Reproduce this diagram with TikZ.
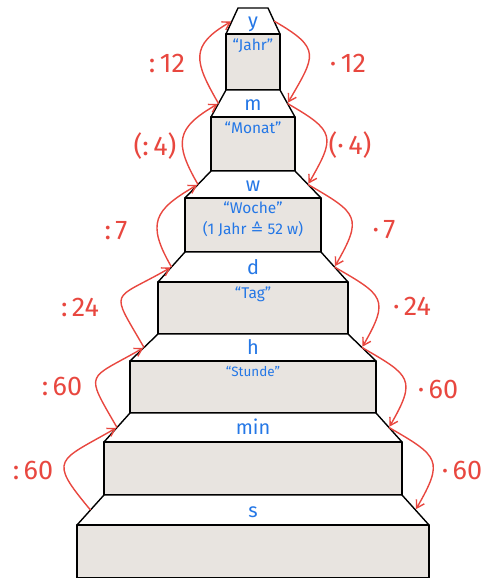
\documentclass[tikz,border=0pt]{standalone}
\usepackage{fontspec}
\setmainfont{Fira Sans}
\newfontfamily\symfont{DejaVu Sans}
\usetikzlibrary{arrows.meta,calc}
\definecolor{pen}{HTML}{E8473F}
\definecolor{ink}{HTML}{2477E6}
\definecolor{stone}{HTML}{E8E4E0}

\begin{document}
\begin{tikzpicture}[x=1pt,y=1pt,
  edge/.style={draw=black,line width=1.4pt,line join=round},
  unit/.style={text=ink,font=\fontsize{20}{20}\selectfont,inner sep=0pt,anchor=base},
  desc/.style={text=ink,font=\fontsize{15.5}{21}\selectfont,align=center,anchor=north,inner sep=0pt},
  op/.style={text=pen,font=\fontsize{27}{27}\selectfont,inner sep=0pt},
  dv/.style={-{Straight Barb[length=2.6mm,width=3.2mm]},draw=pen,line width=1.4pt,
             out=120,in=210,looseness=1.5,shorten >=1pt},
  ml/.style={-{Straight Barb[length=2.6mm,width=3.2mm]},draw=pen,line width=1.4pt,
             out=-30,in=60,looseness=1.7,shorten >=1pt}]
\useasboundingbox (0,0) rectangle (491,-578);
% the steps, top to bottom
\foreach \u/\ya/\wa/\yb/\wb/\yc in {y/8/15/34/27/90, m/90/27/117/42/171, w/171/42/198/68/252,
    d/252/68/282/95/334, h/334/95/361/123/413, min/413/123/442/149/495, s/495/149/525/176/578}{
  \draw[edge,fill=white] (253-\wa,-\ya) -- (253+\wa,-\ya) -- (253+\wb,-\yb) -- (253-\wb,-\yb) -- cycle;
  \draw[edge,fill=stone] (253-\wb,-\yb) rectangle (253+\wb,-\yc);
  \node[unit] (\u) at (253,{-(\ya+\yb)/2-7}) {\u};
  \coordinate (\u L) at ({253-(\wa+\wb)/2},{-(\ya+\yb)/2});
  \coordinate (\u R) at ({253+(\wa+\wb)/2},{-(\ya+\yb)/2});
}
\node[desc] (jahr) at (253,-39) {“Jahr”};
\node[desc] (monat) at (253,-122) {“Monat”};
\node[desc] (woche) at (253,-202) {“Woche”\\(1 Jahr {\symfont ≙} 52 w)};
\node[desc] (tag) at (253,-287) {“Tag”};
\node[desc,font=\fontsize{13.5}{14}\selectfont] (stunde) at (253,-366) {“Stunde”};
% division: upwards on the left
\draw[dv] (mL) to (yL);
\draw[dv] (wL) to (mL);
\draw[dv] (dL) to (wL);
\draw[dv,looseness=2.1] (hL) to (dL);
\draw[dv,looseness=2] (minL) to (hL);
\draw[dv,looseness=2,out=130] (sL) to (minL);
\node[op] (dv12) at (167,-63) {:\,12};
\node[op] (dv4) at (155,-146) {(:\,4)};
\node[op] (dv7) at (116,-231) {:\,7};
\node[op] (dv24) at (80,-307) {:\,24};
\node[op] (dv60a) at (62,-386) {:\,60};
\node[op] (dv60b) at (33,-470) {:\,60};
% multiplication: downwards on the right
\draw[ml] (yR) to (mR);
\draw[ml] (mR) to (wR);
\draw[ml] (wR) to (dR);
\draw[ml] (dR) to (hR);
\draw[ml] (hR) to (minR);
\draw[ml] (minR) to (sR);
\node[op] (ml12) at (348,-63) {·\,12};
\node[op] (ml4) at (350,-145) {(·\,4)};
\node[op] (ml7) at (384,-230) {·\,7};
\node[op] (ml24) at (412,-306) {·\,24};
\node[op] (ml60a) at (438,-389) {·\,60};
\node[op] (ml60b) at (462,-470) {·\,60};
\end{tikzpicture}
\end{document}
